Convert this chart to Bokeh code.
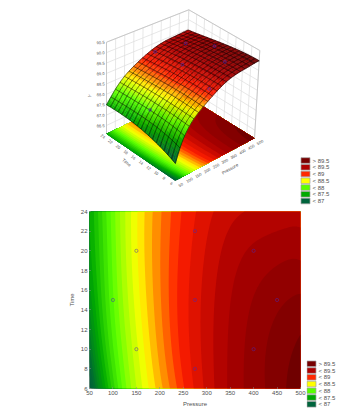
import numpy as np
from bokeh.plotting import figure
from bokeh.layouts import column, row
from bokeh.models import Range1d, FixedTicker, ColumnDataSource
from bokeh.core.properties import value
from bokeh.embed import file_html
from bokeh.resources import INLINE

# ---- data ----
pressure = [50, 75, 100, 125, 150, 175, 200, 225, 250, 275, 300, 325, 350, 375, 400, 425, 450, 475, 500]
time = [6, 9, 12, 15, 18, 21, 24]
resp_t06 = [86.80, 87.31, 87.75, 88.08, 88.28, 88.49, 88.66, 88.83, 89.00, 89.14, 89.30, 89.43, 89.55, 89.65, 89.72, 89.78, 89.86, 89.94, 89.99]
resp_t09 = [87.00, 87.52, 87.86, 88.13, 88.34, 88.55, 88.71, 88.88, 89.04, 89.17, 89.31, 89.44, 89.53, 89.64, 89.70, 89.77, 89.82, 89.88, 89.94]
resp_t12 = [87.20, 87.60, 87.94, 88.19, 88.41, 88.60, 88.76, 88.92, 89.07, 89.20, 89.33, 89.43, 89.53, 89.61, 89.69, 89.75, 89.81, 89.86, 89.90]
resp_t15 = [87.35, 87.67, 88.00, 88.23, 88.45, 88.62, 88.78, 88.93, 89.08, 89.21, 89.33, 89.43, 89.52, 89.60, 89.68, 89.73, 89.77, 89.79, 89.82]
resp_t18 = [87.43, 87.73, 88.02, 88.26, 88.49, 88.64, 88.78, 88.93, 89.07, 89.18, 89.30, 89.40, 89.48, 89.55, 89.61, 89.65, 89.68, 89.69, 89.70]
resp_t21 = [87.47, 87.76, 88.04, 88.27, 88.50, 88.64, 88.78, 88.92, 89.04, 89.16, 89.26, 89.34, 89.40, 89.46, 89.49, 89.52, 89.53, 89.55, 89.55]
resp_t24 = [87.50, 87.78, 88.05, 88.28, 88.51, 88.64, 88.77, 88.90, 89.03, 89.13, 89.21, 89.29, 89.35, 89.39, 89.42, 89.43, 89.44, 89.46, 89.47]
obs_pressure = [100, 150, 150, 275, 275, 275, 400, 400, 450]
obs_time = [15, 10, 20, 8, 15, 22, 10, 20, 15]
obs_seen_3d_z = [88.0, None, None, 89.05, 89.5, 89.42, 89.76, 89.6, 89.85]
levels = [86.7, 86.8, 86.9, 87.0, 87.1, 87.2, 87.3, 87.4, 87.5, 87.6, 87.7, 87.8, 87.9, 88.0, 88.1, 88.2, 88.3,
          88.4, 88.5, 88.6, 88.7, 88.8, 88.9, 89.0, 89.13, 89.26, 89.39, 89.52, 89.65, 89.78, 89.91, 90.1]
legend_labels = ["> 89.5", "< 89.5", "< 89", "< 88.5", "< 88", "< 87.5", "< 87"]
legend_colors = ["#780000", "#af0000", "#ff2800", "#ffff00", "#5aff00", "#00aa00", "#00643c"]
pressure_ticks = [50, 100, 150, 200, 250, 300, 350, 400, 450, 500]
time_ticks = [6, 8, 10, 12, 14, 16, 18, 20, 22, 24]
z_ticks = [86.5, 87.0, 87.5, 88.0, 88.5, 89.0, 89.5, 90.0, 90.5]

Z = np.array([resp_t06, resp_t09, resp_t12, resp_t15, resp_t18, resp_t21, resp_t24])
P_arr, T_arr = np.array(pressure, float), np.array(time, float)

# ---- colours ----
stops_z = [86.7, 87.0, 87.5, 88.0, 88.5, 89.0, 89.5, 90.0]
stops_c = np.array([(0, 90, 62), (0, 105, 52), (0, 170, 0), (90, 255, 0), (255, 255, 0), (255, 30, 0), (172, 0, 0), (112, 0, 0)], float)


def col(v):
    c = [int(round(np.interp(v, stops_z, stops_c[:, i]))) for i in range(3)]
    return "#%02x%02x%02x" % tuple(c)


band_colors = [col((a + b) / 2) for a, b in zip(levels[:-1], levels[1:])]

# ---- projection of the box on the page: corners in page pixels ----
Z0, Z1 = 86.1, 90.5
C = {  # (pressure end, time end, z end)
    (0, 0, 0): (174.7, 180.3), (1, 0, 0): (254.0, 137.7), (0, 1, 0): (106.0, 133.3), (1, 1, 0): (185.3, 95.0),
    (0, 0, 1): (176.0, 70.0), (1, 0, 1): (259.3, 50.0), (0, 1, 1): (106.0, 41.7), (1, 1, 1): (188.3, 9.3),
}


def project(pv, tv, zv):
    u = (np.asarray(pv, float) - 50) / 450
    v = (np.asarray(tv, float) - 6) / 18
    w = (np.asarray(zv, float) - Z0) / (Z1 - Z0)
    xs, ys = 0, 0
    for (a, b, c), (cx, cy) in C.items():
        k = (u if a else 1 - u) * (v if b else 1 - v) * (w if c else 1 - w)
        xs = xs + k * cx
        ys = ys + k * cy
    return xs, ys


# fine display grid: smooth curves through the table above, only for drawing it
SUB = 3
fine_p = np.linspace(50, 500, 18 * SUB + 1)
fine_t = np.linspace(6, 24, 18 * SUB + 1)
sp, st = (P_arr - 275) / 225, (T_arr - 15) / 9
fp, ft = (fine_p - 275) / 225, (fine_t - 15) / 9
along_p = np.array([np.polyval(np.polyfit(sp, r, 7), fp) for r in Z])
ZF = np.array([np.polyval(np.polyfit(st, along_p[:, j], 3), ft) for j in range(len(fine_p))]).T
GP, GT = np.meshgrid(fine_p, fine_t)

FONT = "Liberation Sans"
GRAY = "#505050"


def painted_contour(fig, x, y):
    """Each band is painted over the previous ones, so no seams show between them."""
    for lo, c in zip(levels[:-1], band_colors):
        fig.contour(x, y, ZF, levels=[lo, levels[-1] + 1], fill_color=[c], line_color=None)


def tx(fig, xs, ys, texts, angle, size, align="center"):
    src = ColumnDataSource(dict(x=list(xs), y=list(ys), t=list(texts)))
    fig.text("x", "y", text="t", source=src, angle=angle, text_font=value(FONT), text_font_size=size,
             text_color=GRAY, text_align=align, text_baseline="middle")


def draw_legend(fig, left, first_y):
    n = len(legend_labels)
    ys = first_y + 6.75 * np.arange(n)
    fig.rect(x=[left + 4.5] * n, y=list(ys), width=9, height=5.6, fill_color=legend_colors,
             line_color="#a0a0a0", line_width=0.7)
    tx(fig, [left + 11.5] * n, ys, legend_labels, 0, "6px", align="left")


# ---- top panel ----
top = figure(width=349, height=206, output_backend="svg", toolbar_location=None, frame_align=False,
             x_range=Range1d(0, 349), y_range=Range1d(206, 0), min_border=0, outline_line_color=None)
top.xaxis.visible = False
top.yaxis.visible = False
top.grid.visible = False

wall_color = "#dcdcdc"
for zv in z_ticks:
    x0, y0 = project(50, 24, zv); x1, y1 = project(500, 24, zv); x2, y2 = project(500, 6, zv)
    top.line([x0, x1, x2], [y0, y1, y2], line_color=wall_color, line_width=0.7)
for pv in pressure_ticks:
    x0, y0 = project(pv, 24, Z0); x1, y1 = project(pv, 24, Z1)
    top.line([x0, x1], [y0, y1], line_color=wall_color, line_width=0.7)
for tv in time_ticks:
    x0, y0 = project(500, tv, Z0); x1, y1 = project(500, tv, Z1)
    top.line([x0, x1], [y0, y1], line_color=wall_color, line_width=0.7)
for a, b in [((0, 1, 0), (0, 1, 1)), ((0, 1, 1), (1, 1, 1)), ((1, 1, 1), (1, 0, 1)), ((1, 0, 1), (1, 0, 0))]:
    top.line([C[a][0], C[b][0]], [C[a][1], C[b][1]], line_color="#c0c0c0", line_width=0.8)

# floor: same response, contoured on the projected floor
FX, FY = project(GP, GT, Z0)
painted_contour(top, FX, FY)

# surface
SX, SY = project(GP, GT, ZF)
qx, qy, qc = [], [], []
for i in range(ZF.shape[0] - 1, 0, -1):
    for j in range(ZF.shape[1] - 1):
        qx.append([SX[i, j], SX[i, j + 1], SX[i - 1, j + 1], SX[i - 1, j]])
        qy.append([SY[i, j], SY[i, j + 1], SY[i - 1, j + 1], SY[i - 1, j]])
        m = ZF[i - 1:i + 1, j:j + 2].mean()
        qc.append(band_colors[min(max(np.searchsorted(levels, m) - 1, 0), len(band_colors) - 1)])
top.patches(qx, qy, fill_color=qc, line_color=qc, line_width=0.4)
for i in range(0, ZF.shape[0], SUB):
    top.line(SX[i], SY[i], line_color="#000000", line_alpha=0.78, line_width=0.65)
for j in range(0, ZF.shape[1], SUB):
    top.line(SX[:, j], SY[:, j], line_color="#000000", line_alpha=0.78, line_width=0.65)

# observed points seen above the surface
seen = [i for i, z in enumerate(obs_seen_3d_z) if z is not None]
ox, oy = project([obs_pressure[i] for i in seen], [obs_time[i] for i in seen], [obs_seen_3d_z[i] for i in seen])
top.scatter(ox, oy, size=2.8, marker="circle", fill_color=None, line_color="#4a28b4", line_alpha=0.8, line_width=0.8)

# tick labels of the box
x, y = project(pressure_ticks, 6, Z0)
tx(top, x + 5.5, y + 4, [str(v) for v in pressure_ticks], 0.52, "4px")
x, y = project(50, time_ticks, Z0)
tx(top, x - 3.6, y + 2.6, [str(v) for v in time_ticks], -0.7, "4px")
x, y = project(50, 24, z_ticks)
tx(top, x - 2, y, ["%.1f" % v for v in z_ticks], 0.08, "4px", align="right")
tx(top, [229.5], [168.5], ["Pressure"], 0.52, "4.5px")
tx(top, [126], [162], ["Time"], -0.7, "4.5px")
tx(top, [89.5], [95.5], ["Y"], 1.2, "4.5px")
draw_legend(top, 300.5, 160)

# ---- bottom panel ----
bot = figure(width=306, height=209, output_backend="svg", toolbar_location=None, frame_align=False,
             x_range=Range1d(50, 500), y_range=Range1d(6, 24), min_border_left=89, min_border_right=6,
             min_border_top=5, min_border_bottom=27, outline_line_color="#a8a8a8", outline_line_width=1)
bot.grid.visible = False
painted_contour(bot, fine_p, fine_t)
bot.scatter(obs_pressure, obs_time, size=3.2, marker="circle", fill_color=None, line_color="#4a28b4",
            line_alpha=0.6, line_width=0.8)
bot.xaxis.ticker = FixedTicker(ticks=pressure_ticks)
bot.yaxis.ticker = FixedTicker(ticks=time_ticks)
bot.xaxis.axis_label = "Pressure"
bot.yaxis.axis_label = "Time"
for ax in (bot.xaxis[0], bot.yaxis[0]):
    ax.axis_line_color = None
    ax.major_tick_line_color = "#8a8a8a"
    ax.major_tick_in = 1
    ax.major_tick_out = 0
    ax.minor_tick_line_color = None
    ax.major_label_text_font = FONT
    ax.major_label_text_font_size = "6px"
    ax.major_label_text_color = GRAY
    ax.major_label_standoff = 2
    ax.axis_label_text_font = FONT
    ax.axis_label_text_font_size = "6px"
    ax.axis_label_text_font_style = "normal"
    ax.axis_label_text_color = GRAY
    ax.axis_label_standoff = 3

# legend of the bottom panel, to the right of its frame
side = figure(width=43, height=209, output_backend="svg", toolbar_location=None, frame_align=False,
              x_range=Range1d(306, 349), y_range=Range1d(415, 206), min_border=0, outline_line_color=None)
side.xaxis.visible = False
side.yaxis.visible = False
side.grid.visible = False
draw_legend(side, 306.5, 363.3)

open("out.html", "w").write(file_html(column(top, row(bot, side, spacing=0), spacing=0), INLINE))
